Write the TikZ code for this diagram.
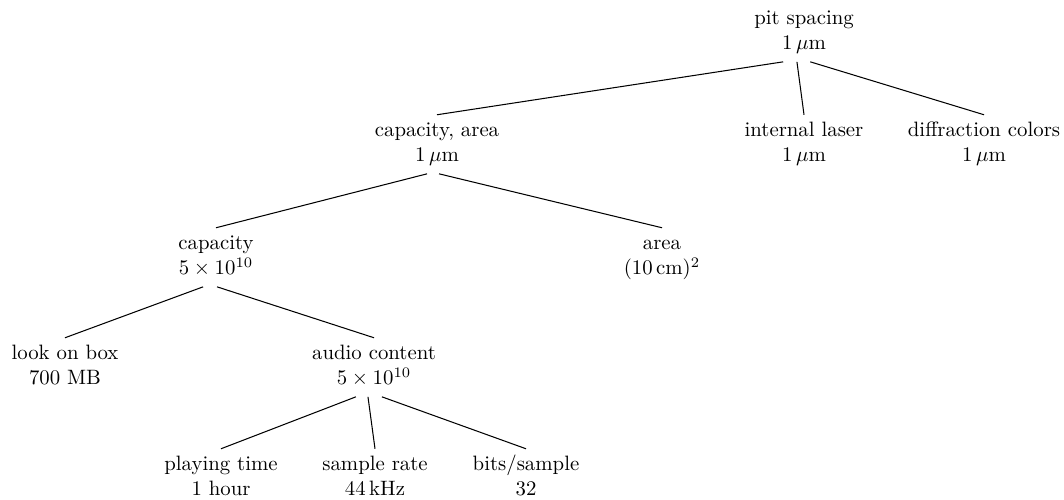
\documentclass[tikz,border=0pt]{standalone}
\begin{document}
\begin{tikzpicture}[x=0.4808pt,y=-0.4808pt,
  tnode/.style={align=center,inner xsep=2pt,inner ysep=2pt},
  edge/.style={line width=0.5pt}]
\useasboundingbox (0,0) rectangle (1064,500);
\node[tnode] (root) at (804,32.3) {\strut pit spacing\\\strut 1\,$\mu$m};
\node[tnode] (caparea) at (437,144.3) {\strut capacity, area\\\strut 1\,$\mu$m};
\node[tnode] (laser) at (804,144.3) {\strut internal laser\\\strut 1\,$\mu$m};
\node[tnode] (diffr) at (984,144.3) {\strut diffraction colors\\\strut 1\,$\mu$m};
\node[tnode] (capacity) at (216,257.3) {\strut capacity\\\strut $5\times10^{10}$};
\node[tnode] (area) at (662,257.3) {\strut area\\\strut $(10\,\mathrm{cm})^2$};
\node[tnode] (lookbox) at (65,367.3) {\strut look on box\\\strut 700 MB};
\node[tnode] (audio) at (374,367.3) {\strut audio content\\\strut $5\times10^{10}$};
\node[tnode] (playing) at (221,478.3) {\strut playing time\\\strut 1 hour};
\node[tnode] (rate) at (375,478.3) {\strut sample rate\\\strut 44\,kHz};
\node[tnode] (bits) at (526,478.3) {\strut bits/sample\\\strut 32};
\draw[edge] ([xshift=-10pt]root.south) -- (caparea.north);
\draw[edge] ([xshift=-3.4pt]root.south) -- (laser.north);
\draw[edge] ([xshift=3pt]root.south) -- (diffr.north);
\draw[edge] ([xshift=-4.8pt]caparea.south) -- (capacity.north);
\draw[edge] ([xshift=1pt]caparea.south) -- (area.north);
\draw[edge] ([xshift=-6.2pt]capacity.south) -- (lookbox.north);
\draw[edge] ([xshift=0.5pt]capacity.south) -- (audio.north);
\draw[edge] ([xshift=-8.7pt]audio.south) -- (playing.north);
\draw[edge] ([xshift=-2.9pt]audio.south) -- (rate.north);
\draw[edge] ([xshift=3.8pt]audio.south) -- (bits.north);
\end{tikzpicture}
\end{document}
